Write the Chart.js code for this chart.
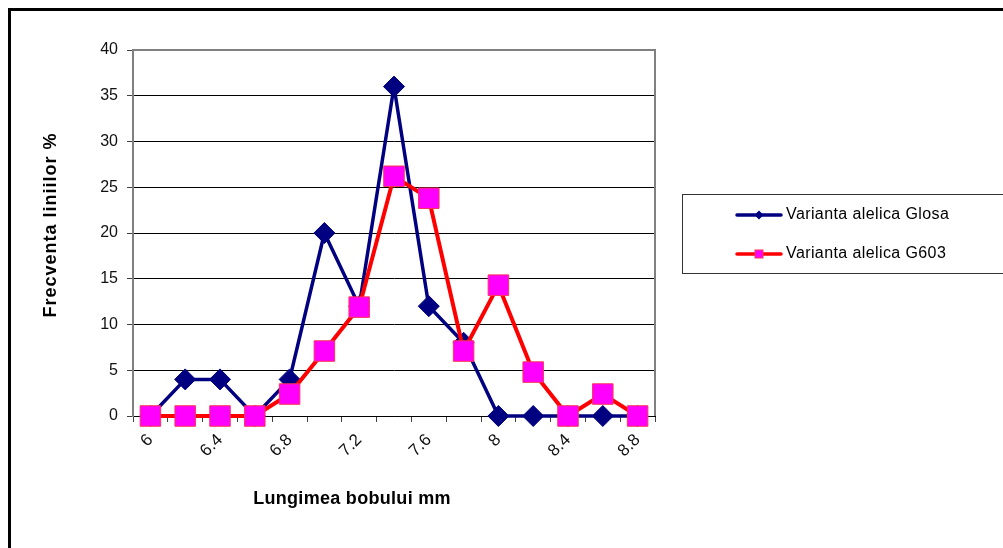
<!DOCTYPE html>
<html>
<head>
<meta charset="utf-8">
<script src="https://cdn.jsdelivr.net/npm/chart.js@4/dist/chart.umd.min.js"></script>
<style>
  html, body { margin: 0; padding: 0; background: #fff; }
  #wrap { width: 1003px; height: 548px; }
</style>
</head>
<body>
<div id="wrap"><canvas id="chart" width="1003" height="548"></canvas></div>
<script>
const lengths = ['6', '6.2', '6.4', '6.6', '6.8', '7', '7.2', '7.4', '7.6', '7.8', '8', '8.2', '8.4', '8.6', '8.8'];
const glosa = [0, 4, 4, 0, 4, 20, 12, 36, 12, 8, 0, 0, 0, 0, 0];
const g603 = [0, 0, 0, 0, 2.4, 7.1, 11.9, 26.2, 23.8, 7.1, 14.3, 4.8, 0, 2.4, 0];
const seriesNames = ['Varianta alelica Glosa', 'Varianta alelica G603'];
const xTitle = 'Lungimea bobului mm';
const yTitle = 'Frecventa liniilor %';

const FONT = "'Liberation Sans', Arial, sans-serif";
const NAVY = '#000080';
const RED = '#ff0000';
const MAGENTA = '#ff00ff';
const SQUARE_EDGE = '#ff3355';

// frame, plot border, axis titles and the boxed legend
const decor = {
  id: 'decor',
  beforeDraw(chart) {
    const ctx = chart.ctx;
    ctx.save();
    ctx.fillStyle = '#fff';
    ctx.fillRect(0, 0, chart.width, chart.height);
    ctx.fillStyle = '#000';
    ctx.fillRect(8, 8, chart.width - 8, 3);
    ctx.fillRect(8, 8, 3, chart.height - 8);
    ctx.restore();
  },
  beforeDatasetsDraw(chart) {
    const { ctx, chartArea: a } = chart;
    ctx.save();
    ctx.strokeStyle = '#808080';
    ctx.lineWidth = 2;
    ctx.beginPath();
    ctx.moveTo(a.left, a.top);
    ctx.lineTo(a.right, a.top);
    ctx.lineTo(a.right, a.bottom);
    ctx.stroke();
    ctx.restore();
  },
  afterDraw(chart) {
    const ctx = chart.ctx;
    ctx.save();
    ctx.fillStyle = '#000';
    ctx.font = 'bold 18px ' + FONT;
    ctx.textAlign = 'center';
    ctx.textBaseline = 'middle';
    ctx.letterSpacing = '0.3px';
    ctx.fillText(xTitle, 352, 499);
    ctx.translate(51, 225);
    ctx.rotate(-Math.PI / 2);
    ctx.letterSpacing = '1px';
    ctx.fillText(yTitle, 0, 0);
    ctx.restore();

    // legend box
    ctx.save();
    ctx.strokeStyle = '#333';
    ctx.lineWidth = 1;
    ctx.strokeRect(682.5, 194.5, 340, 79);
    ctx.font = '16px ' + FONT;
    ctx.letterSpacing = '0.4px';
    ctx.textBaseline = 'middle';
    ctx.textAlign = 'left';
    const rows = [
      { y: 215, color: NAVY, marker: 'diamond' },
      { y: 254, color: RED, marker: 'square' },
    ];
    rows.forEach((r, i) => {
      ctx.strokeStyle = r.color;
      ctx.lineWidth = 3.5;
      ctx.lineCap = 'round';
      ctx.beginPath();
      ctx.moveTo(737, r.y);
      ctx.lineTo(781, r.y);
      ctx.stroke();
      if (r.marker === 'diamond') {
        ctx.fillStyle = NAVY;
        ctx.beginPath();
        ctx.moveTo(759, r.y - 4.5);
        ctx.lineTo(763.5, r.y);
        ctx.lineTo(759, r.y + 4.5);
        ctx.lineTo(754.5, r.y);
        ctx.closePath();
        ctx.fill();
      } else {
        ctx.fillStyle = MAGENTA;
        ctx.fillRect(755, r.y - 4, 8, 8);
        ctx.strokeStyle = SQUARE_EDGE;
        ctx.lineWidth = 1;
        ctx.strokeRect(755, r.y - 4, 8, 8);
      }
      ctx.fillStyle = '#000';
      ctx.fillText(seriesNames[i], 786, r.y);
    });
    ctx.restore();
  },
};

new Chart(document.getElementById('chart'), {
  type: 'line',
  data: {
    labels: lengths,
    datasets: [
      {
        label: seriesNames[0],
        data: glosa,
        borderColor: NAVY,
        backgroundColor: NAVY,
        borderWidth: 3.5,
        pointStyle: 'rectRot',
        pointRadius: 10.5,
        pointBorderColor: NAVY,
        pointBackgroundColor: NAVY,
        pointBorderWidth: 1,
        tension: 0,
        clip: false,
        order: 1,
      },
      {
        label: seriesNames[1],
        data: g603,
        borderColor: RED,
        backgroundColor: MAGENTA,
        borderWidth: 4,
        pointStyle: 'rect',
        pointRadius: 14.5,
        pointBorderColor: SQUARE_EDGE,
        pointBackgroundColor: MAGENTA,
        pointBorderWidth: 1,
        tension: 0,
        clip: false,
        order: 0,
      },
    ],
  },
  options: {
    responsive: false,
    animation: false,
    devicePixelRatio: 1,
    layout: { padding: { top: 50, right: 348, bottom: 0, left: 0 } },
    plugins: {
      legend: { display: false },
      tooltip: { enabled: false },
    },
    scales: {
      x: {
        offset: true,
        grid: {
          display: true,
          drawOnChartArea: false,
          drawTicks: true,
          tickLength: 6,
          offset: true,
          tickColor: '#404040',
        },
        border: { color: '#000', width: 1 },
        ticks: {
          autoSkip: false,
          minRotation: 45,
          maxRotation: 45,
          padding: 8,
          color: '#111',
          font: { family: FONT, size: 17 },
          callback: (v, i) => (i % 2 === 0 ? lengths[i] : ''),
        },
        afterFit: (s) => { s.height = 132; },
      },
      y: {
        min: 0,
        max: 40,
        ticks: {
          stepSize: 5,
          padding: 9,
          color: '#111',
          font: { family: FONT, size: 16 },
        },
        grid: {
          color: '#000',
          lineWidth: 1,
          drawTicks: true,
          tickLength: 6,
          tickColor: '#404040',
        },
        border: { color: '#808080', width: 2 },
        afterFit: (s) => { s.width = 133; },
      },
    },
  },
  plugins: [decor],
});
</script>
</body>
</html>
